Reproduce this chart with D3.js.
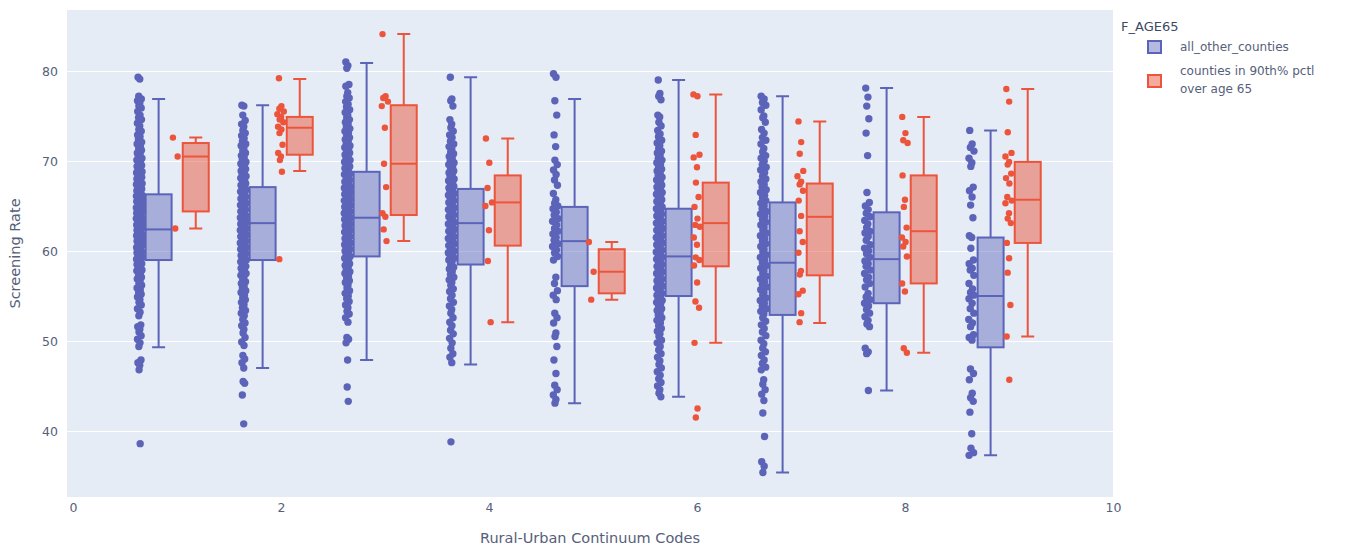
<!DOCTYPE html>
<html>
<head>
<meta charset="utf-8">
<script src="https://cdn.jsdelivr.net/npm/d3@7"></script>
<style>
  body { margin: 0; background: #fff; }
  text { font-family: "DejaVu Sans", Verdana, sans-serif; }
</style>
</head>
<body>
<svg id="chart" width="1355" height="547"></svg>
<script>
// Rural-Urban Continuum Codes on the x axis
const codes = [1, 2, 3, 4, 5, 6, 7, 8, 9];
const xTicks = [0, 2, 4, 6, 8, 10];
const yTicks = [40, 50, 60, 70, 80];
const seriesNames = ["all_other_counties", "counties in 90th% pctl", "over age 65"];

// box statistics, one entry per code
const blueLo  = [49.3, 47.0, 47.9, 47.4, 43.1, 43.8, 35.4, 44.5, 37.3];
const blueQ1  = [59.0, 59.0, 59.4, 58.5, 56.1, 55.0, 52.9, 54.2, 49.3];
const blueMed = [62.4, 63.1, 63.7, 63.1, 61.1, 59.4, 58.7, 59.1, 55.0];
const blueQ3  = [66.3, 67.1, 68.8, 66.9, 64.9, 64.7, 65.4, 64.3, 61.5];
const blueHi  = [76.9, 76.2, 80.9, 79.3, 76.9, 79.0, 77.2, 78.1, 73.4];

const redLo  = [62.5, 68.9, 61.1, 52.1, 54.6, 49.8, 52.0, 48.7, 50.5];
const redQ1  = [64.4, 70.7, 64.0, 60.6, 55.3, 58.3, 57.3, 56.4, 60.9];
const redMed = [70.5, 73.7, 69.7, 65.4, 57.7, 63.1, 63.8, 62.2, 65.7];
const redQ3  = [72.0, 74.9, 76.2, 68.4, 60.2, 67.6, 67.5, 68.4, 69.9];
const redHi  = [72.6, 79.1, 84.1, 72.5, 61.0, 77.4, 74.4, 74.9, 78.0];

// county points, all_other_counties
const blue1 = [79.3, 79.1, 77.2, 76.9, 76.7, 76.4, 76.1, 75.9, 75.5, 75.1, 74.8, 74.6, 74.2, 73.9, 73.5, 73.3, 72.9, 72.7, 72.4, 72.1,
  71.9, 71.6, 71.4, 71.2, 70.9, 70.8, 70.5, 70.3, 70.1, 69.9, 69.8, 69.5, 69.4, 69.2, 69.0, 68.8, 68.7, 68.5, 68.3, 68.2,
  68.0, 67.8, 67.7, 67.5, 67.4, 67.2, 67.0, 66.9, 66.7, 66.6, 66.4, 66.2, 66.1, 65.9, 65.8, 65.6, 65.5, 65.3, 65.1, 65.0,
  64.8, 64.7, 64.5, 64.4, 64.2, 64.0, 63.9, 63.7, 63.6, 63.4, 63.3, 63.1, 62.9, 62.8, 62.6, 62.5, 62.3, 62.2, 62.0, 61.8,
  61.7, 61.5, 61.4, 61.2, 61.1, 60.9, 60.7, 60.6, 60.4, 60.3, 60.1, 59.9, 59.8, 59.6, 59.5, 59.3, 59.1, 59.0, 58.8, 58.6,
  58.5, 58.3, 58.1, 57.9, 57.8, 57.6, 57.3, 57.1, 56.9, 56.7, 56.4, 56.2, 55.9, 55.7, 55.4, 55.2, 54.9, 54.6, 54.3, 54.0,
  53.6, 53.2, 52.8, 51.8, 51.6, 51.3, 51.0, 50.6, 50.2, 49.8, 49.4, 47.9, 47.6, 47.3, 46.8, 38.6];
const blue2 = [76.2, 76.1, 75.1, 74.5, 74.1, 73.8, 73.4, 73.1, 72.8, 72.5, 72.2, 71.9, 71.7, 71.4, 71.1, 70.9, 70.6, 70.4, 70.2, 69.9,
  69.7, 69.5, 69.3, 69.1, 68.9, 68.7, 68.5, 68.3, 68.1, 67.9, 67.7, 67.5, 67.3, 67.1, 66.9, 66.8, 66.6, 66.4, 66.2, 66.0,
  65.8, 65.7, 65.5, 65.3, 65.1, 64.9, 64.8, 64.6, 64.4, 64.2, 64.1, 63.9, 63.7, 63.5, 63.4, 63.2, 63.0, 62.9, 62.7, 62.5,
  62.3, 62.2, 62.0, 61.8, 61.6, 61.5, 61.3, 61.1, 60.9, 60.8, 60.6, 60.4, 60.2, 60.1, 59.9, 59.7, 59.5, 59.4, 59.2, 59.0,
  58.8, 58.7, 58.5, 58.3, 58.1, 57.9, 57.7, 57.5, 57.3, 57.1, 56.9, 56.6, 56.4, 56.1, 55.9, 55.6, 55.4, 55.1, 54.8, 54.6,
  54.3, 54.0, 53.7, 53.4, 53.1, 52.8, 52.4, 52.0, 51.7, 51.3, 50.9, 50.4, 49.9, 49.5, 48.4, 48.0, 47.6, 47.0, 45.5, 45.3,
  44.0, 40.8];
const blue3 = [81.0, 80.6, 80.3, 78.5, 78.3, 77.6, 77.2, 77.0, 76.6, 76.3, 76.0, 75.7, 75.4, 75.1, 74.8, 74.6, 74.3, 74.1, 73.8, 73.6,
  73.3, 73.1, 72.8, 72.6, 72.4, 72.2, 71.9, 71.7, 71.5, 71.3, 71.1, 70.9, 70.7, 70.5, 70.3, 70.1, 69.9, 69.7, 69.6, 69.4,
  69.2, 69.0, 68.8, 68.6, 68.5, 68.3, 68.1, 67.9, 67.7, 67.6, 67.4, 67.2, 67.0, 66.9, 66.7, 66.5, 66.3, 66.2, 66.0, 65.8,
  65.6, 65.5, 65.3, 65.1, 64.9, 64.8, 64.6, 64.4, 64.2, 64.1, 63.9, 63.7, 63.5, 63.4, 63.2, 63.0, 62.8, 62.7, 62.5, 62.3,
  62.1, 62.0, 61.8, 61.6, 61.4, 61.3, 61.1, 60.9, 60.7, 60.6, 60.4, 60.2, 60.0, 59.8, 59.6, 59.4, 59.2, 59.0, 58.8, 58.6,
  58.4, 58.2, 57.9, 57.7, 57.5, 57.2, 57.0, 56.7, 56.5, 56.2, 55.9, 55.6, 55.3, 55.0, 54.7, 54.4, 54.0, 53.7, 53.3, 53.0,
  52.6, 52.1, 50.4, 50.2, 49.8, 47.9, 44.9, 43.3];
const blue4 = [79.3, 76.9, 76.7, 76.1, 74.6, 74.1, 73.7, 73.3, 72.9, 72.6, 72.2, 71.9, 71.6, 71.3, 71.0, 70.8, 70.5, 70.3, 70.0, 69.8,
  69.6, 69.3, 69.1, 68.9, 68.7, 68.5, 68.3, 68.0, 67.8, 67.6, 67.4, 67.2, 67.0, 66.8, 66.6, 66.4, 66.2, 66.0, 65.8, 65.6,
  65.4, 65.2, 65.0, 64.8, 64.6, 64.4, 64.2, 64.0, 63.8, 63.6, 63.4, 63.2, 63.0, 62.8, 62.6, 62.4, 62.2, 62.0, 61.8, 61.6,
  61.4, 61.2, 61.0, 60.8, 60.6, 60.4, 60.2, 60.0, 59.8, 59.6, 59.4, 59.2, 59.0, 58.7, 58.5, 58.2, 58.0, 57.7, 57.4, 57.1,
  56.8, 56.5, 56.2, 55.8, 55.5, 55.1, 54.7, 54.3, 53.9, 53.5, 53.1, 52.6, 52.1, 51.7, 51.2, 50.8, 50.3, 49.8, 49.2, 48.6,
  48.2, 47.6, 38.8];
const blue5 = [79.7, 79.3, 76.7, 75.1, 72.9, 71.6, 70.1, 69.6, 69.0, 68.5, 67.9, 67.3, 66.4, 65.7, 65.3, 65.0, 64.7, 64.3, 64.0, 63.6,
  63.3, 62.9, 62.5, 62.2, 61.9, 61.5, 61.2, 60.8, 60.5, 60.1, 59.8, 59.4, 59.0, 57.1, 56.4, 55.6, 55.1, 54.6, 53.1, 52.6,
  52.0, 50.9, 50.5, 49.4, 47.9, 46.4, 45.1, 44.6, 44.0, 43.5, 43.1];
const blue6 = [79.0, 77.5, 77.2, 76.8, 75.1, 74.9, 74.3, 73.9, 73.4, 73.0, 72.7, 72.3, 72.0, 71.7, 71.4, 71.1, 70.9, 70.6, 70.3, 70.1,
  69.8, 69.6, 69.3, 69.1, 68.9, 68.6, 68.4, 68.2, 67.9, 67.7, 67.5, 67.3, 67.1, 66.9, 66.7, 66.5, 66.3, 66.1, 65.9, 65.7,
  65.5, 65.3, 65.1, 64.9, 64.7, 64.5, 64.3, 64.1, 63.9, 63.7, 63.5, 63.3, 63.1, 62.9, 62.7, 62.5, 62.3, 62.1, 61.9, 61.7,
  61.5, 61.3, 61.1, 60.9, 60.7, 60.5, 60.3, 60.1, 59.9, 59.7, 59.5, 59.3, 59.1, 58.9, 58.7, 58.5, 58.3, 58.1, 57.9, 57.7,
  57.5, 57.3, 57.1, 56.9, 56.7, 56.5, 56.3, 56.1, 55.9, 55.7, 55.5, 55.3, 55.1, 54.9, 54.7, 54.5, 54.3, 54.1, 53.9, 53.6,
  53.4, 53.1, 52.9, 52.6, 52.3, 52.0, 51.7, 51.4, 51.1, 50.8, 50.5, 50.1, 49.8, 49.4, 49.0, 48.6, 48.2, 47.8, 47.4, 47.0,
  46.6, 46.2, 45.8, 45.4, 45.0, 44.6, 44.2, 43.8];
const blue7 = [77.2, 76.9, 76.5, 76.2, 75.7, 75.0, 74.8, 74.3, 73.5, 73.1, 72.6, 72.3, 71.9, 71.4, 71.0, 70.6, 70.3, 70.0, 69.6, 69.3,
  69.0, 68.7, 68.3, 68.0, 67.7, 67.4, 67.1, 66.8, 66.5, 66.2, 65.9, 65.6, 65.3, 65.0, 64.7, 64.4, 64.1, 63.8, 63.5, 63.2,
  62.9, 62.6, 62.3, 62.0, 61.7, 61.4, 61.1, 60.8, 60.5, 60.2, 59.9, 59.6, 59.3, 59.0, 58.7, 58.4, 58.1, 57.8, 57.5, 57.2,
  56.9, 56.6, 56.3, 56.0, 55.7, 55.4, 55.1, 54.8, 54.5, 54.2, 53.9, 53.6, 53.3, 53.0, 52.6, 52.2, 51.8, 51.4, 51.0, 50.6,
  50.1, 49.7, 49.2, 48.8, 48.4, 47.9, 47.5, 47.1, 46.8, 45.7, 45.2, 44.6, 44.1, 43.4, 42.0, 39.4, 36.6, 36.1, 35.4];
const blue8 = [78.1, 77.1, 76.1, 74.7, 73.1, 70.6, 66.5, 65.4, 65.0, 64.6, 64.2, 63.8, 63.4, 63.0, 62.6, 62.2, 62.0, 61.6, 61.2, 60.7,
  60.3, 60.0, 59.7, 59.3, 58.9, 58.6, 58.3, 57.9, 57.5, 57.1, 56.8, 56.4, 56.0, 55.3, 54.9, 54.6, 54.2, 53.9, 53.5, 53.1,
  52.7, 52.3, 51.9, 51.6, 49.2, 48.8, 48.6, 44.5];
const blue9 = [73.4, 71.9, 71.5, 71.1, 70.3, 69.8, 69.4, 67.1, 66.7, 66.0, 65.1, 63.7, 61.7, 61.5, 60.3, 59.0, 58.6, 58.1, 57.9, 57.3,
  56.4, 55.8, 55.4, 55.1, 54.7, 54.2, 53.6, 53.1, 52.4, 52.0, 51.6, 50.7, 50.4, 50.1, 46.9, 46.4, 45.7, 44.2, 43.7, 43.3,
  42.1, 39.7, 38.1, 37.6, 37.3];

// county points, counties in 90th% pctl over age 65
const red1 = [72.6, 70.5, 62.5];
const red2 = [79.2, 76.1, 75.8, 75.5, 75.2, 74.9, 74.6, 74.3, 73.8, 73.5, 73.1, 71.8, 70.9, 70.5, 70.1, 68.8, 59.1];
const red3 = [84.1, 77.2, 77.0, 76.6, 76.1, 73.7, 69.7, 67.1, 64.2, 63.8, 62.4, 61.1];
const red4 = [72.5, 69.8, 67.0, 65.4, 65.0, 62.3, 58.9, 52.1];
const red5 = [61.0, 57.7, 54.6];
const red6 = [77.4, 77.2, 72.9, 70.7, 70.4, 69.3, 67.6, 66.0, 64.9, 63.6, 62.9, 62.7, 61.5, 60.7, 59.3, 59.0, 58.4, 56.5, 54.4, 53.7,
  49.8, 42.5, 41.5];
const red7 = [74.4, 72.1, 70.8, 68.9, 68.3, 67.7, 67.4, 66.7, 65.6, 63.9, 62.2, 61.0, 59.8, 57.8, 57.4, 55.6, 55.2, 53.1, 52.1];
const red8 = [74.9, 73.1, 72.3, 72.0, 68.4, 65.7, 64.9, 62.6, 61.5, 61.0, 60.5, 59.4, 56.4, 55.5, 49.2, 48.7];
const red9 = [78.0, 76.6, 73.2, 70.9, 70.5, 69.9, 69.6, 68.6, 68.1, 67.5, 66.0, 65.6, 65.3, 64.2, 63.6, 63.1, 60.9, 59.2, 57.6, 54.0,
  50.5, 45.7];

const bluePoints = [blue1, blue2, blue3, blue4, blue5, blue6, blue7, blue8, blue9];
const redPoints = [red1, red2, red3, red4, red5, red6, red7, red8, red9];

const svg = d3.select('#chart');
const plot = {left: 67, right: 1113, top: 10, bottom: 497};
const textColor = '#56607a';

const x = d3.scaleLinear().domain([-0.058, 10]).range([plot.left, plot.right]);
const y = d3.scaleLinear().domain([32.67, 86.78]).range([plot.bottom, plot.top]);

svg.append('rect')
    .attr('x', plot.left).attr('y', plot.top)
    .attr('width', plot.right - plot.left).attr('height', plot.bottom - plot.top)
    .attr('fill', '#e5ecf6');

// horizontal grid + y labels
let yaxis = svg.append('g')
    .attr('transform', `translate(${plot.left},0)`)
    .call(d3.axisLeft(y).tickValues(yTicks).tickSize(-(plot.right - plot.left)).tickPadding(9));
yaxis.select('.domain').remove();
yaxis.selectAll('line').attr('stroke', '#fff').attr('stroke-width', 1);
yaxis.selectAll('text').attr('fill', textColor).attr('font-size', 12.5);

let xaxis = svg.append('g')
    .attr('transform', `translate(0,${plot.bottom})`)
    .call(d3.axisBottom(x).tickValues(xTicks).tickSize(0).tickPadding(6));
xaxis.select('.domain').remove();
xaxis.selectAll('text').attr('fill', textColor).attr('font-size', 12.5);

svg.append('text')
    .attr('x', (plot.left + plot.right) / 2).attr('y', 543)
    .attr('text-anchor', 'middle').attr('font-size', 14.5).attr('fill', textColor)
    .text('Rural-Urban Continuum Codes');

svg.append('text')
    .attr('transform', `translate(20,${(plot.top + plot.bottom) / 2}) rotate(-90)`)
    .attr('text-anchor', 'middle').attr('font-size', 14.5).attr('fill', textColor)
    .text('Screening Rate');

// spread of points sideways grows with local density, like plotly's jitter;
// a 4-step cycle keeps the dense columns evenly filled
const phase = [-1, 0.33, -0.33, 1];
function jitter(vals) {
    const dens = vals.map(v => d3.sum(vals, u => Math.exp(-0.5 * ((v - u) / 0.7) ** 2)));
    const maxD = d3.max(dens);
    return vals.map((v, i) => {
        const wobble = ((i * 0.6180339887) % 1) - 0.5;
        return (phase[i % 4] + 0.3 * wobble) * Math.sqrt(dens[i] / maxD);
    });
}

const traces = [
    {color: '#5c64b9', fill: 'rgba(92,100,185,0.45)', offset: -0.177, r: 3.7, jw: 0.026,
     lo: blueLo, q1: blueQ1, med: blueMed, q3: blueQ3, hi: blueHi, pts: bluePoints},
    {color: '#ec553b', fill: 'rgba(236,85,59,0.5)', offset: 0.18, r: 3.2, jw: 0.03,
     lo: redLo, q1: redQ1, med: redMed, q3: redQ3, hi: redHi, pts: redPoints}
];

const boxHalf = 0.125;
const capHalf = 0.0625;
const ptShift = -0.185;

traces.forEach(tr => {
    let g = svg.append('g');
    codes.forEach((c, i) => {
        const cx = c + tr.offset;
        // whiskers
        g.append('path')
            .attr('d', `M${x(cx)},${y(tr.q3[i])}V${y(tr.hi[i])}M${x(cx - capHalf)},${y(tr.hi[i])}H${x(cx + capHalf)}` +
                       `M${x(cx)},${y(tr.q1[i])}V${y(tr.lo[i])}M${x(cx - capHalf)},${y(tr.lo[i])}H${x(cx + capHalf)}`)
            .attr('stroke', tr.color).attr('stroke-width', 2).attr('fill', 'none');
        g.append('rect')
            .attr('x', x(cx - boxHalf)).attr('y', y(tr.q3[i]))
            .attr('width', x(cx + boxHalf) - x(cx - boxHalf))
            .attr('height', y(tr.q1[i]) - y(tr.q3[i]))
            .attr('fill', tr.fill).attr('stroke', tr.color).attr('stroke-width', 2);
        g.append('line')
            .attr('x1', x(cx - boxHalf)).attr('x2', x(cx + boxHalf))
            .attr('y1', y(tr.med[i])).attr('y2', y(tr.med[i]))
            .attr('stroke', tr.color).attr('stroke-width', 2);

        const vals = tr.pts[i];
        const jit = jitter(vals);
        g.selectAll(null)
            .data(vals)
            .join('circle')
            .attr('cx', (v, k) => x(cx + ptShift + jit[k] * tr.jw))
            .attr('cy', v => y(v))
            .attr('r', tr.r)
            .attr('fill', tr.color);
    });
});

// legend
let legend = svg.append('g');
legend.append('text').attr('x', 1121).attr('y', 31).attr('font-size', 13).attr('fill', '#3d4a63').text('F_AGE65');
[[47, [seriesNames[0]]], [81, [seriesNames[1], seriesNames[2]]]].forEach(([cy, lines], i) => {
    legend.append('rect')
        .attr('x', 1148).attr('y', cy - 6).attr('width', 13).attr('height', 12)
        .attr('fill', traces[i].fill).attr('stroke', traces[i].color).attr('stroke-width', 2);
    lines.forEach((t, k) => {
        legend.append('text')
            .attr('x', 1180).attr('y', cy + (lines.length === 1 ? 0 : (k ? 8 : -10)))
            .attr('dy', '0.35em').attr('font-size', 12).attr('fill', textColor)
            .text(t);
    });
});
</script>
</body>
</html>
